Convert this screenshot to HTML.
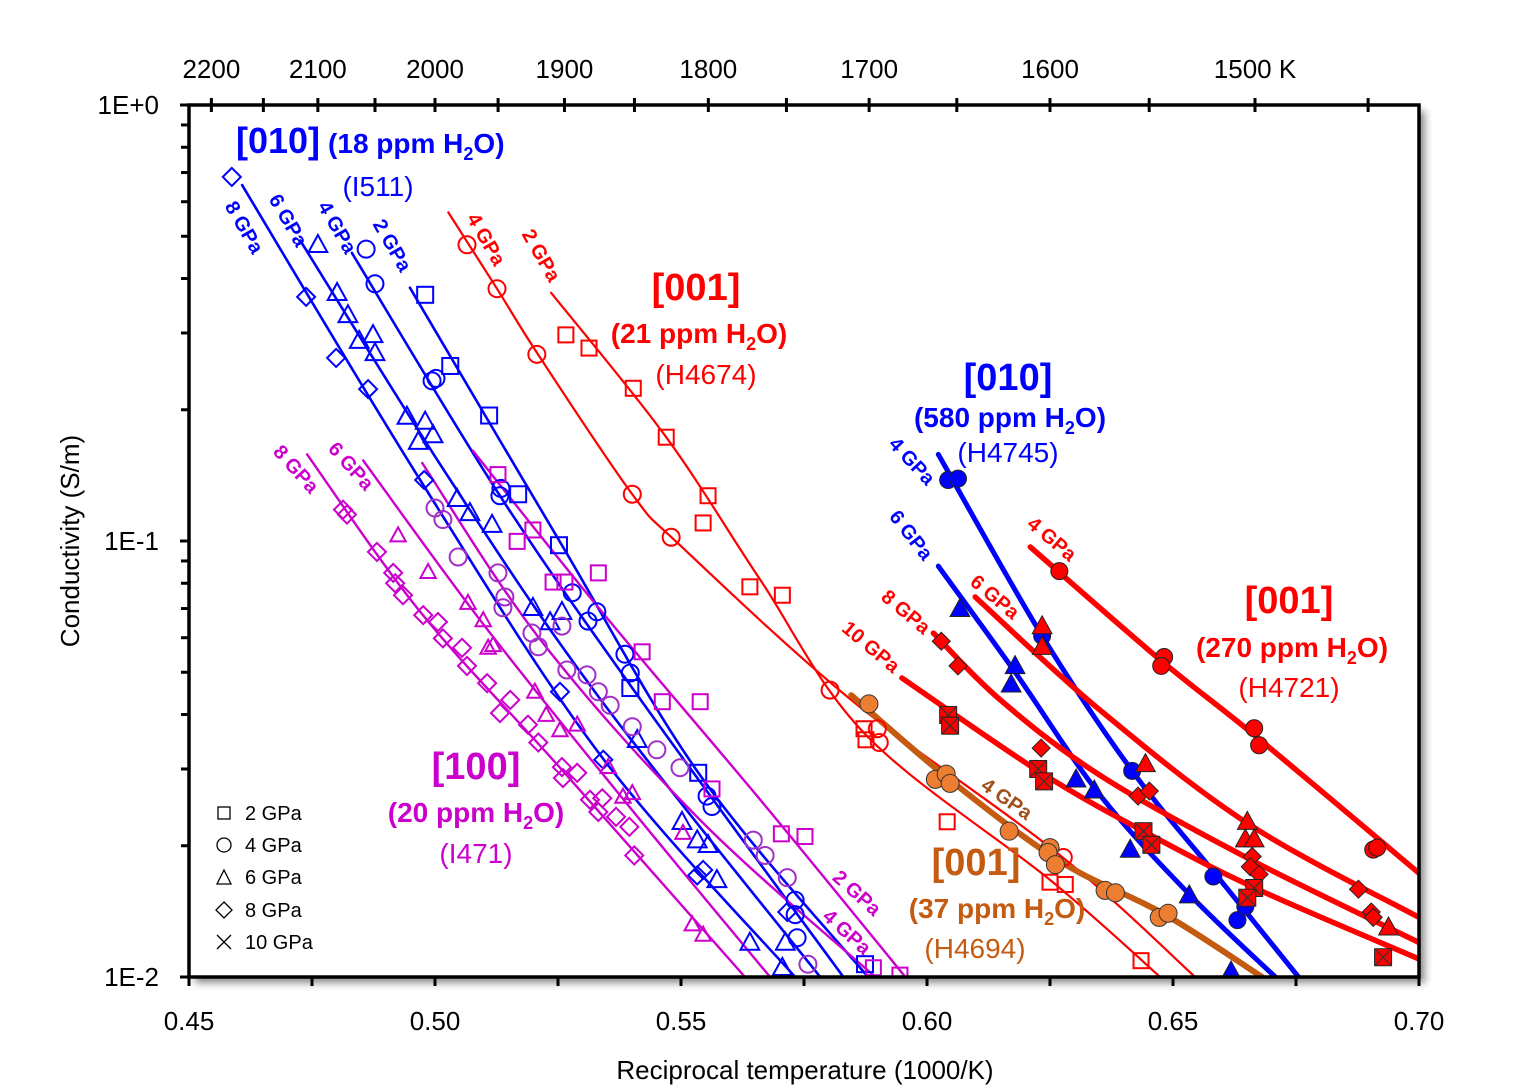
<!DOCTYPE html>
<html><head><meta charset="utf-8"><style>
body{margin:0;background:#fff;}
svg{display:block;font-family:"Liberation Sans",sans-serif;}
</style></head><body>
<svg id="chart" width="1526" height="1090" viewBox="0 0 1526 1090" xmlns="http://www.w3.org/2000/svg">
<defs>
<filter id="sh" x="-5%" y="-5%" width="115%" height="115%"><feGaussianBlur in="SourceAlpha" stdDeviation="4"/><feOffset dx="6" dy="6"/><feComponentTransfer><feFuncA type="linear" slope="0.45"/></feComponentTransfer><feMerge><feMergeNode/></feMerge></filter>
<clipPath id="clip"><rect x="189" y="105" width="1230" height="872"/></clipPath>
</defs>
<rect x="189" y="105" width="1230" height="872" fill="#fff" filter="url(#sh)"/>
<rect x="189" y="105" width="1230" height="872" fill="#fff"/>
<g id="series" clip-path="url(#clip)"></g>
<g id="axes"></g>
<g id="labels" font-weight="bold">
<text x="236" y="153" fill="#0000ff" font-size="36">[010]<tspan font-size="28" dx="8">(18 ppm H</tspan><tspan font-size="18" dy="7">2</tspan><tspan font-size="28" dy="-7">O)</tspan></text>
<text x="378" y="196" fill="#0000ff" font-size="28" font-weight="normal" text-anchor="middle">(I511)</text>
<text x="696" y="300" fill="#ff0000" font-size="38" text-anchor="middle">[001]</text>
<text x="699" y="343" fill="#ff0000" font-size="28" text-anchor="middle">(21 ppm H<tspan font-size="18" dy="7">2</tspan><tspan dy="-7">O)</tspan></text>
<text x="706" y="384" fill="#ff0000" font-size="28" font-weight="normal" text-anchor="middle">(H4674)</text>
<text x="1008" y="390" fill="#0000ff" font-size="38" text-anchor="middle">[010]</text>
<text x="1010" y="427" fill="#0000ff" font-size="28" text-anchor="middle">(580 ppm H<tspan font-size="18" dy="7">2</tspan><tspan dy="-7">O)</tspan></text>
<text x="1008" y="462" fill="#0000ff" font-size="28" font-weight="normal" text-anchor="middle">(H4745)</text>
<text x="1289" y="613" fill="#ff0000" font-size="38" text-anchor="middle">[001]</text>
<text x="1292" y="657" fill="#ff0000" font-size="28" text-anchor="middle">(270 ppm H<tspan font-size="18" dy="7">2</tspan><tspan dy="-7">O)</tspan></text>
<text x="1289" y="697" fill="#ff0000" font-size="28" font-weight="normal" text-anchor="middle">(H4721)</text>
<text x="976" y="875" fill="#c55a11" font-size="38" text-anchor="middle">[001]</text>
<text x="997" y="918" fill="#c55a11" font-size="28" text-anchor="middle">(37 ppm H<tspan font-size="18" dy="7">2</tspan><tspan dy="-7">O)</tspan></text>
<text x="975" y="958" fill="#c55a11" font-size="28" font-weight="normal" text-anchor="middle">(H4694)</text>
<text x="476" y="779" fill="#cc00cc" font-size="38" text-anchor="middle">[100]</text>
<text x="476" y="822" fill="#cc00cc" font-size="28" text-anchor="middle">(20 ppm H<tspan font-size="18" dy="7">2</tspan><tspan dy="-7">O)</tspan></text>
<text x="476" y="863" fill="#cc00cc" font-size="28" font-weight="normal" text-anchor="middle">(I471)</text>
<g font-size="20" text-anchor="middle" dominant-baseline="middle">
<text fill="#0000ff" transform="translate(243,228) rotate(60)">8 GPa</text>
<text fill="#0000ff" transform="translate(287,221) rotate(60)">6 GPa</text>
<text fill="#0000ff" transform="translate(336,228) rotate(60)">4 GPa</text>
<text fill="#0000ff" transform="translate(391,246) rotate(60)">2 GPa</text>
<text fill="#ff0000" transform="translate(485,240) rotate(60)">4 GPa</text>
<text fill="#ff0000" transform="translate(540,256) rotate(60)">2 GPa</text>
<text fill="#cc00cc" transform="translate(295,470) rotate(48)">8 GPa</text>
<text fill="#cc00cc" transform="translate(350,467) rotate(48)">6 GPa</text>
<text fill="#cc00cc" transform="translate(856,894) rotate(42)">2 GPa</text>
<text fill="#cc00cc" transform="translate(846,933) rotate(42)">4 GPa</text>
<text fill="#0000ff" transform="translate(911,462) rotate(47)">4 GPa</text>
<text fill="#0000ff" transform="translate(910,536) rotate(52)">6 GPa</text>
<text fill="#ff0000" transform="translate(1051,540) rotate(40)">4 GPa</text>
<text fill="#ff0000" transform="translate(994,598) rotate(40)">6 GPa</text>
<text fill="#ff0000" transform="translate(905,613) rotate(40)">8 GPa</text>
<text fill="#ff0000" transform="translate(870,648) rotate(40)">10 GPa</text>
<text fill="#a0501a" transform="translate(1006,800) rotate(35)">4 GPa</text>
</g>
</g>
<g id="legend" font-size="20">
<rect x="218" y="807" width="12" height="12" fill="none" stroke="#000" stroke-width="1.3"/>
<text x="245" y="820">2 GPa</text>
<circle cx="224" cy="845" r="7" fill="none" stroke="#000" stroke-width="1.3"/>
<text x="245" y="852">4 GPa</text>
<path d="M224,870 L231,884 L217,884 Z" fill="none" stroke="#000" stroke-width="1.3"/>
<text x="245" y="884">6 GPa</text>
<path d="M224,902 L232,910 L224,918 L216,910 Z" fill="none" stroke="#000" stroke-width="1.3"/>
<text x="245" y="917">8 GPa</text>
<path d="M217,935 L231,949 M231,935 L217,949" stroke="#000" stroke-width="1.3"/>
<text x="245" y="949">10 GPa</text>
</g>
<text transform="translate(79,541) rotate(-90)" font-size="26" text-anchor="middle">Conductivity (S/m)</text>
<text x="805" y="1079" font-size="26" text-anchor="middle">Reciprocal temperature (1000/K)</text>
</svg>
<script>
// ---- axis data ----
const xTicks=[0.45,0.475,0.50,0.525,0.55,0.575,0.60,0.625,0.65,0.675,0.70];
const xTickLabels=["0.45","","0.50","","0.55","","0.60","","0.65","","0.70"];
const yDecades=[1,0.1,0.01];
const yTickLabels=["1E+0","1E-1","1E-2"];
const topTempTicks=[2200,2150,2100,2050,2000,1950,1900,1850,1800,1750,1700,1650,1600,1550,1500,1450];
const topTempLabels=["2200","","2100","","2000","","1900","","1800","","1700","","1600","","1500 K",""];

// ---- [010] 18 ppm (I511) ----
const b18p2X=[0.4980,0.5031,0.5110,0.5169,0.5252,0.5397,0.5535,0.5874];
const b18p2S=[0.367,0.252,0.194,0.128,0.0978,0.0460,0.0294,0.0107];
const b18p2CX=[0.4949,0.5254,0.5539,0.5880];
const b18p2CS=[0.381,0.0995,0.0290,0.0100];
const b18p4X=[0.4860,0.4878,0.4994,0.5002,0.5134,0.5132,0.5279,0.5311,0.5329,0.5386,0.5397,0.5553,0.5563,0.5732,0.5732,0.5736];
const b18p4S=[0.467,0.389,0.233,0.236,0.132,0.127,0.0761,0.0655,0.0688,0.0550,0.0498,0.0260,0.0246,0.0150,0.0139,0.0123];
const b18p4CX=[0.4831,0.5132,0.5417,0.5830];
const b18p4CS=[0.458,0.127,0.0434,0.0100];
const b18p6X=[0.4762,0.4801,0.4823,0.4846,0.4874,0.4878,0.4943,0.4980,0.4996,0.4966,0.5045,0.5071,0.5116,0.5199,0.5234,0.5258,0.5411,0.5502,0.5533,0.5555,0.5573,0.5640,0.5712,0.5706];
const b18p6S=[0.478,0.371,0.330,0.288,0.297,0.270,0.193,0.188,0.175,0.169,0.125,0.116,0.109,0.0703,0.0652,0.0688,0.0350,0.0227,0.0206,0.0201,0.0167,0.0120,0.0120,0.0105];
const b18p6CX=[0.4726,0.5031,0.5336,0.5783];
const b18p6CS=[0.489,0.138,0.0434,0.0100];
const b18p8X=[0.4587,0.4738,0.4799,0.4864,0.4978,0.5254,0.5342,0.5533,0.5545,0.5716];
const b18p8S=[0.684,0.363,0.263,0.223,0.138,0.0451,0.0315,0.0171,0.0176,0.0141];
const b18p8CX=[0.4608,0.4970,0.5336,0.5732];
const b18p8CS=[0.655,0.138,0.0323,0.0100];

// ---- [100] 20 ppm (I471) ----
const m2X=[0.5128,0.5199,0.5167,0.5240,0.5264,0.5332,0.5421,0.5462,0.5539,0.5563,0.5704,0.5752,0.5891,0.5945];
const m2S=[0.142,0.106,0.0998,0.0805,0.0805,0.0845,0.0557,0.0428,0.0428,0.0270,0.0213,0.0210,0.0105,0.0101];
const m2CX=[0.5077,0.5336,0.5661,0.5956];
const m2CS=[0.161,0.0695,0.0255,0.0100];
const m4X=[0.5000,0.5016,0.5047,0.5128,0.5142,0.5138,0.5197,0.5210,0.5258,0.5268,0.5309,0.5332,0.5356,0.5401,0.5451,0.5498,0.5647,0.5671,0.5716,0.5758];
const m4S=[0.119,0.112,0.0919,0.0845,0.0744,0.0703,0.0615,0.0572,0.0638,0.0506,0.0493,0.0451,0.0420,0.0375,0.0332,0.0302,0.0206,0.0190,0.0169,0.0107];
const m4CX=[0.4974,0.5214,0.5539,0.5895];
const m4CS=[0.151,0.0594,0.0229,0.0100];
const m6X=[0.4925,0.4986,0.5067,0.5098,0.5108,0.5118,0.5203,0.5226,0.5254,0.5289,0.5352,0.5382,0.5401,0.5504,0.5523,0.5545];
const m6S=[0.103,0.0849,0.0721,0.0658,0.0569,0.0577,0.0451,0.0399,0.0368,0.0379,0.0303,0.0259,0.0264,0.0214,0.0132,0.0125];
const m6CX=[0.4854,0.5092,0.5376,0.5681];
const m6CS=[0.153,0.0658,0.0261,0.0100];
const m8X=[0.4813,0.4821,0.4882,0.4915,0.4919,0.4935,0.4976,0.5006,0.5016,0.5055,0.5065,0.5106,0.5132,0.5153,0.5189,0.5210,0.5258,0.5260,0.5289,0.5315,0.5340,0.5332,0.5368,0.5395,0.5405];
const m8S=[0.118,0.115,0.0944,0.0845,0.0800,0.0751,0.0676,0.0652,0.0598,0.0569,0.0517,0.0472,0.0403,0.0432,0.0379,0.0345,0.0303,0.0286,0.0294,0.0255,0.0257,0.0239,0.0233,0.0221,0.0190];
const m8CX=[0.4740,0.4970,0.5254,0.5630];
const m8CS=[0.158,0.0688,0.0302,0.0100];

// ---- [001] 21 ppm (H4674) ----
const r21p4X=[0.5065,0.5126,0.5207,0.5401,0.5480,0.5803,0.5899,0.5903,0.6277];
const r21p4S=[0.478,0.379,0.268,0.128,0.102,0.0455,0.0371,0.0345,0.0188];
const r21p4CX=[0.5027,0.5126,0.5214,0.5401,0.5498,0.5844,0.6271,0.6545];
const r21p4CS=[0.567,0.379,0.263,0.128,0.0978,0.0434,0.0190,0.0100];
const r21p2X=[0.5266,0.5313,0.5403,0.5470,0.5555,0.5545,0.5640,0.5706,0.5872,0.5876,0.6041,0.6250,0.6281,0.6435];
const r21p2S=[0.297,0.277,0.224,0.173,0.127,0.110,0.0785,0.0751,0.0371,0.0350,0.0227,0.0165,0.0163,0.0109];
const r21p2CX=[0.5236,0.5470,0.5661,0.5876,0.6250,0.6474];
const r21p2CS=[0.371,0.173,0.0815,0.0359,0.0167,0.0100];

// ---- [001] 37 ppm (H4694) ----
const o4X=[0.5882,0.6017,0.6039,0.6047,0.6167,0.6250,0.6246,0.6261,0.6362,0.6383,0.6472,0.6490];
const o4S=[0.0423,0.0284,0.0292,0.0278,0.0216,0.0198,0.0193,0.0181,0.0158,0.0156,0.0137,0.0140];
const o4CX=[0.5846,0.6047,0.6271,0.6484,0.6681];
const o4CS=[0.0443,0.0283,0.0184,0.0139,0.0100];

// ---- [010] 580 ppm (H4745) ----
const b580p4X=[0.6043,0.6063,0.6234,0.6417,0.6582,0.6631,0.6647];
const b580p4S=[0.138,0.139,0.0606,0.0297,0.0170,0.0135,0.0145];
const b580p4CX=[0.6023,0.6234,0.6417,0.6596,0.6755];
const b580p4CS=[0.158,0.0606,0.0297,0.0167,0.0100];
const b580p6X=[0.6067,0.6179,0.6171,0.6303,0.6340,0.6413,0.6533,0.6618];
const b580p6S=[0.0699,0.0517,0.0469,0.0284,0.0268,0.0196,0.0154,0.0103];
const b580p6CX=[0.6023,0.6179,0.6352,0.6535,0.6708];
const b580p6CS=[0.0876,0.0500,0.0261,0.0154,0.0100];

// ---- [001] 270 ppm (H4721) ----
const r270p4X=[0.6269,0.6482,0.6476,0.6665,0.6675,0.6907,0.6915];
const r270p4S=[0.0853,0.0542,0.0517,0.0372,0.0340,0.0196,0.0198];
const r270p4CX=[0.6210,0.6474,0.6677,0.7000];
const r270p4CS=[0.0969,0.0534,0.0350,0.0173];
const r270p6X=[0.6234,0.6234,0.6444,0.6651,0.6647,0.6665,0.6938];
const r270p6S=[0.0638,0.0572,0.0308,0.0227,0.0207,0.0207,0.0130];
const r270p6CX=[0.6098,0.6352,0.6657,0.7000];
const r270p6CS=[0.0744,0.0409,0.0223,0.0137];
const r270p8X=[0.6029,0.6063,0.6232,0.6429,0.6452,0.6661,0.6657,0.6675,0.6877,0.6903,0.6907];
const r270p8S=[0.0589,0.0517,0.0335,0.0260,0.0267,0.0189,0.0179,0.0172,0.0159,0.0141,0.0137];
const r270p8CX=[0.6013,0.6149,0.6352,0.6657,0.7000];
const r270p8CS=[0.0615,0.0432,0.0290,0.0186,0.0120];
const r270p10X=[0.6043,0.6047,0.6226,0.6238,0.6440,0.6456,0.6665,0.6651,0.6927];
const r270p10S=[0.0399,0.0377,0.0300,0.0281,0.0216,0.0201,0.0160,0.0152,0.0111];
const r270p10CX=[0.5949,0.6230,0.6453,0.6677,0.7000];
const r270p10CS=[0.0485,0.0295,0.0212,0.0158,0.0110];

const NS="http://www.w3.org/2000/svg";
const L=189,R=1419,T=105,B=977;
function xs(v){return L+(v-0.45)/(0.70-0.45)*(R-L);}
function ys(s){return T+(0-Math.log10(s))/2*(B-T);}
function mk(tag,attrs,parent){const e=document.createElementNS(NS,tag);for(const k in attrs)e.setAttribute(k,attrs[k]);parent.appendChild(e);return e;}
const gS=document.getElementById('series'),gA=document.getElementById('axes');

function curvePath(cx,cs){
  const p=cx.map((v,i)=>[xs(v),ys(cs[i])]);
  let d='M'+p[0][0].toFixed(1)+','+p[0][1].toFixed(1);
  for(let i=0;i<p.length-1;i++){
    const p0=p[Math.max(0,i-1)],p1=p[i],p2=p[i+1],p3=p[Math.min(p.length-1,i+2)];
    const c1=[p1[0]+(p2[0]-p0[0])/6,p1[1]+(p2[1]-p0[1])/6];
    const c2=[p2[0]-(p3[0]-p1[0])/6,p2[1]-(p3[1]-p1[1])/6];
    d+=' C'+c1[0].toFixed(1)+','+c1[1].toFixed(1)+' '+c2[0].toFixed(1)+','+c2[1].toFixed(1)+' '+p2[0].toFixed(1)+','+p2[1].toFixed(1);
  }
  return d;
}
function drawCurve(name,cx,cs,color,w){
  const e=mk('path',{d:curvePath(cx,cs),fill:'none',stroke:color,'stroke-width':w,'stroke-linecap':'round'},gS);
  
  
}
function marker(shape,x,y,stroke,fill,sw,size,name){
  const r=size/2;let e;
  if(shape==='sq'||shape==='xsq'){e=mk('rect',{x:x-r,y:y-r,width:size,height:size},gS);}
  else if(shape==='ci'){e=mk('circle',{cx:x,cy:y,r:r},gS);}
  else if(shape==='tr'){e=mk('path',{d:`M${x},${y-r*1.15} L${x+r*1.1},${y+r*0.85} L${x-r*1.1},${y+r*0.85} Z`},gS);}
  else {e=mk('path',{d:`M${x},${y-r*1.2} L${x+r*1.2},${y} L${x},${y+r*1.2} L${x-r*1.2},${y} Z`},gS);}
  e.setAttribute('fill',fill);e.setAttribute('stroke',stroke);e.setAttribute('stroke-width',sw);
  
  
  if(shape==='xsq'){
    const xx=mk('path',{d:`M${x-r},${y-r} L${x+r},${y+r} M${x+r},${y-r} L${x-r},${y+r}`,stroke:'#333','stroke-width':1.2},gS);
    
    
  }
}
function drawPoints(name,X,S,shape,stroke,fill,sw,size){
  X.forEach((v,i)=>marker(shape,xs(v),ys(S[i]),stroke,fill,sw,size,name+'-point'));
}
const BL='#0000ff',RD='#ff0000',MG='#cc00cc',PU='#a030c8',OR='#ed7d31';
drawCurve('curve-b18-2gpa',b18p2CX,b18p2CS,BL,2.6);
drawCurve('curve-b18-4gpa',b18p4CX,b18p4CS,BL,2.6);
drawCurve('curve-b18-6gpa',b18p6CX,b18p6CS,BL,2.6);
drawCurve('curve-b18-8gpa',b18p8CX,b18p8CS,BL,2.6);
drawCurve('curve-m-2gpa',m2CX,m2CS,MG,2.4);
drawCurve('curve-m-4gpa',m4CX,m4CS,MG,2.4);
drawCurve('curve-m-6gpa',m6CX,m6CS,MG,2.4);
drawCurve('curve-m-8gpa',m8CX,m8CS,MG,2.4);
drawCurve('curve-r21-4gpa',r21p4CX,r21p4CS,RD,2.2);
drawCurve('curve-r21-2gpa',r21p2CX,r21p2CS,RD,2.2);
drawCurve('curve-o37-4gpa',o4CX,o4CS,'#c55a11',6);
drawCurve('curve-b580-4gpa',b580p4CX,b580p4CS,BL,5);
drawCurve('curve-b580-6gpa',b580p6CX,b580p6CS,BL,5);
drawCurve('curve-r270-4gpa',r270p4CX,r270p4CS,RD,5.5);
drawCurve('curve-r270-6gpa',r270p6CX,r270p6CS,RD,5.5);
drawCurve('curve-r270-8gpa',r270p8CX,r270p8CS,RD,5.5);
drawCurve('curve-r270-10gpa',r270p10CX,r270p10CS,RD,5.5);
drawPoints('b18-2gpa',b18p2X,b18p2S,'sq',BL,'none',2,16);
drawPoints('b18-4gpa',b18p4X,b18p4S,'ci',BL,'none',2,17);
drawPoints('b18-6gpa',b18p6X,b18p6S,'tr',BL,'none',2,17);
drawPoints('b18-8gpa',b18p8X,b18p8S,'di',BL,'none',2,15);
drawPoints('m-2gpa',m2X,m2S,'sq',MG,'none',2,15);
drawPoints('m-4gpa',m4X,m4S,'ci',PU,'none',2,17);
drawPoints('m-6gpa',m6X,m6S,'tr',MG,'none',2,14);
drawPoints('m-8gpa',m8X,m8S,'di',MG,'none',2,15);
drawPoints('r21-4gpa',r21p4X,r21p4S,'ci',RD,'none',2,17);
drawPoints('r21-2gpa',r21p2X,r21p2S,'sq',RD,'none',2,15);
drawPoints('o37-4gpa',o4X,o4S,'ci','#333',OR,1,18);
drawPoints('b580-4gpa',b580p4X,b580p4S,'ci','#222',BL,1,17);
drawPoints('b580-6gpa',b580p6X,b580p6S,'tr','#222',BL,1,18);
drawPoints('r270-4gpa',r270p4X,r270p4S,'ci','#222',RD,1,17);
drawPoints('r270-6gpa',r270p6X,r270p6S,'tr','#222',RD,1,18);
drawPoints('r270-8gpa',r270p8X,r270p8S,'di','#222',RD,1,15);
drawPoints('r270-10gpa',r270p10X,r270p10S,'xsq','#222',RD,1,17);

const frame=mk('rect',{x:L,y:T,width:R-L,height:B-T,fill:'none',stroke:'#000','stroke-width':3.5},gA);


xTicks.forEach((v,i)=>{
  const x=xs(v);
  const t=mk('line',{x1:x,y1:B,x2:x,y2:B+9,stroke:'#000','stroke-width':3},gA);
  
  
  if(xTickLabels[i]){
    const tx=mk('text',{x:x,y:B+53,'font-size':26,'text-anchor':'middle'},gA);
    tx.textContent=xTickLabels[i];
    
    
  }
});
yDecades.forEach((d,i)=>{
  const y=ys(d);
  const t=mk('line',{x1:L-9,y1:y,x2:L,y2:y,stroke:'#000','stroke-width':3},gA);
  
  
  const tx=mk('text',{x:L-30,y:y+9,'font-size':26,'text-anchor':'end'},gA);
  tx.textContent=yTickLabels[i];
  
  
  if(i<yDecades.length-1){
    for(let m=2;m<=9;m++){
      const yy=ys(d*m/10);
      const mt=mk('line',{x1:L-8,y1:yy,x2:L,y2:yy,stroke:'#000','stroke-width':3},gA);
      
      
    }
  }
});
topTempTicks.forEach((K,i)=>{
  const x=xs(1000/K);
  const t=mk('line',{x1:x,y1:T-7,x2:x,y2:T+7,stroke:'#000','stroke-width':3},gA);
  
  
  if(topTempLabels[i]){
    const tx=mk('text',{x:x,y:T-27,'font-size':26,'text-anchor':'middle'},gA);
    tx.textContent=topTempLabels[i];
    
    
  }
});
</script>
</body></html>
